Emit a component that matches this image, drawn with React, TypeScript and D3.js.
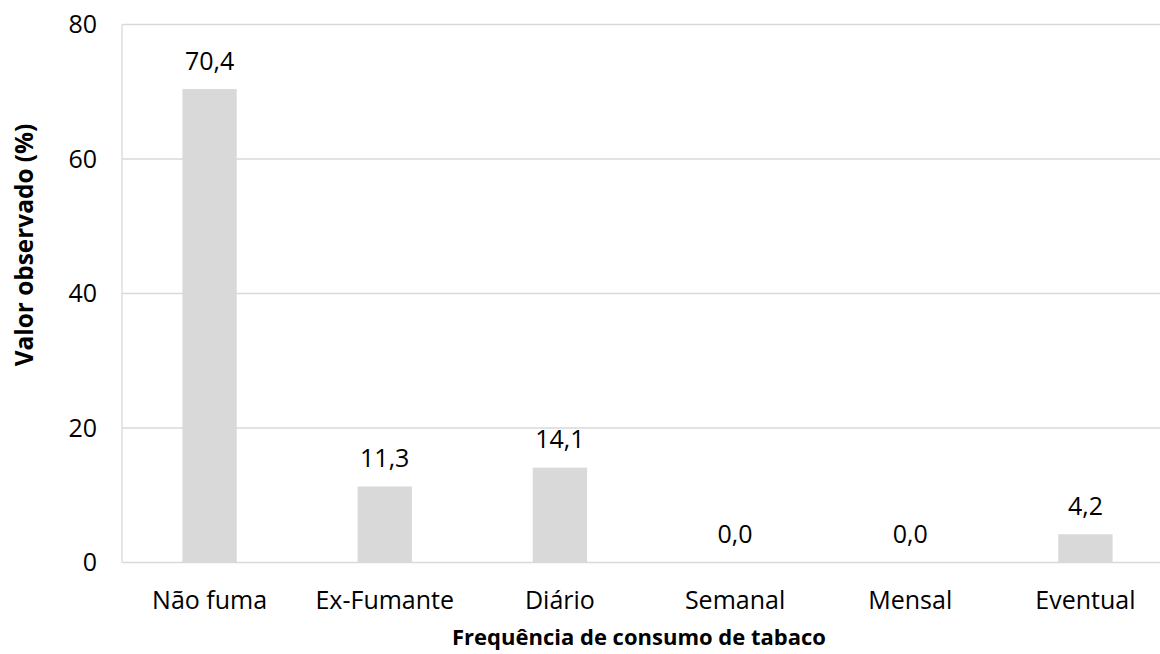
import React from "react";
import * as d3 from "d3";

const categories = ["Não fuma", "Ex-Fumante", "Diário", "Semanal", "Mensal", "Eventual"];
const values = [70.4, 11.3, 14.1, 0.0, 0.0, 4.2];
const yTicks = [0, 20, 40, 60, 80];
const xTitle = "Frequência de consumo de tabaco";
const yTitle = "Valor observado (%)";

const W = 1160;
const H = 654;
const left = 122;
const right = 1173;
const top = 24.5;
const bottom = 562.5;
const FONT = "'Open Sans', Carlito, Calibri, sans-serif";
const FS = 25;

export default function App() {
  const x = d3.scaleBand<string>().domain(categories).range([left, right]).paddingInner(0.69).paddingOuter(0.345);
  const y = d3.scaleLinear().domain([0, 80]).range([bottom, top]);
  const fmt = (v: number) => v.toFixed(1).replace(".", ",");
  return (
    <svg width={W} height={H} style={{ position: "absolute", left: 0, top: 0 }} fontFamily={FONT}>
      <rect width={W} height={H} fill="#fff" />
      {yTicks.map((t) => (
        <g key={t}>
          <line x1={left} x2={right} y1={y(t)} y2={y(t)} stroke="#d9d9d9" strokeWidth={1.3} />
          <text x={97} y={y(t) + 8.5} textAnchor="end" fontSize={FS} fill="#000">{t}</text>
        </g>
      ))}
      <line x1={left} x2={left} y1={top} y2={bottom} stroke="#d9d9d9" strokeWidth={1.3} />
      {categories.map((c, i) => (
        <g key={c}>
          <rect x={x(c)} y={y(values[i])} width={x.bandwidth()} height={bottom - y(values[i])} fill="#d9d9d9" />
          <text x={(x(c) as number) + x.bandwidth() / 2} y={y(values[i]) - 19.5} textAnchor="middle" fontSize={FS} fill="#000">{fmt(values[i])}</text>
          <text x={(x(c) as number) + x.bandwidth() / 2} y={609} textAnchor="middle" fontSize={FS} fill="#000">{c}</text>
        </g>
      ))}
      <text x={639} y={645} textAnchor="middle" fontSize={22} fontWeight="bold" fill="#000">{xTitle}</text>
      <text transform={`translate(33, 245) rotate(-90)`} textAnchor="middle" fontSize={24.4} fontWeight="bold" fill="#000">{yTitle}</text>
    </svg>
  );
}
